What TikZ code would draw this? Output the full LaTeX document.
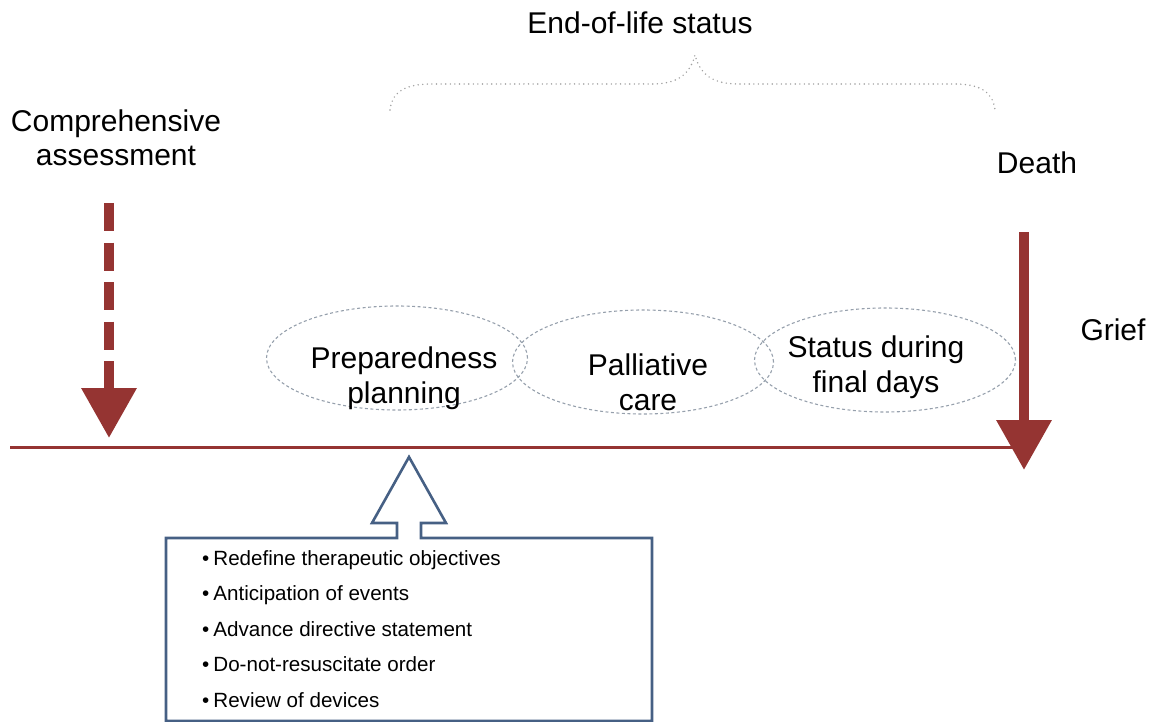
\documentclass[tikz,border=0pt]{standalone}
\usepackage{fontspec}
\setmainfont{Liberation Sans}
\usepackage{tikz}
\usetikzlibrary{arrows.meta,shapes.geometric,positioning}
\definecolor{lifered}{RGB}{149,52,50}
\definecolor{planblue}{RGB}{70,96,132}
\definecolor{ringgray}{RGB}{150,160,172}

\begin{document}
\begin{tikzpicture}[x=1pt,y=-1pt,
	bigtext/.style={font=\fontsize{30}{35}\selectfont,align=center,inner sep=0pt},
	itemtext/.style={font=\fontsize{20.6}{24}\selectfont,inner sep=0pt,anchor=base west},
	phase/.style={draw=ringgray,line width=1.1pt,dash pattern=on 3pt off 2.5pt,ellipse,minimum width=261pt,minimum height=104pt,inner sep=0pt},
	redarrow/.style={draw=lifered,line width=10pt,-{Triangle[width=53pt,length=50pt]}}]
	\useasboundingbox (0,0) rectangle (1156,722);

	% labels
	\node [bigtext] (eol) at (640,23) {End-of-life status};
	\node [bigtext] (assess) at (116,138) {Comprehensive\\[-1pt]assessment};
	\node [bigtext] (death) at (1037,163) {Death};
	\node [bigtext] (grief) at (1113,330) {Grief};

	% brace over the phases
	\draw [gray!75,line width=1.6pt,line cap=round,dash pattern=on 0pt off 4.6pt]
		(390,110) .. controls (392,90) and (408,84) .. (432,84) -- (652,84)
		.. controls (678,84) and (690,74) .. (695,55)
		.. controls (700,74) and (712,84) .. (738,84) -- (955,84)
		.. controls (980,84) and (993,92) .. (995,110);

	% phases
	\node [phase] (prep) at (397,358) {};
	\node [phase] (pall) at (643,362) {};
	\node [phase] (final) at (885,360) {};
	\node [bigtext] (preptext) at (404,378) {Preparedness\\planning};
	\node [bigtext] (palltext) at (648,382) {Palliative\\care};
	\node [bigtext] (finaltext) at (876,367) {Status during\\final days};

	% time line and arrows
	\coordinate (start) at (10,447);
	\coordinate (end) at (1022,447);
	\draw [lifered,line width=3pt] (start) -- (end);
	\coordinate (atop) at (109,203);
	\coordinate (atip) at (109,438);
	\draw [redarrow,dash pattern=on 28pt off 11.5pt] (atop) -- (atip);
	\coordinate (dtop) at (1024,232);
	\coordinate (dtip) at (1024,470);
	\draw [redarrow] (dtop) -- (dtip);

	% plan box with hollow arrow
	\draw [planblue,line width=2.6pt,line join=miter]
		(166,538) -- (397,538) -- (397,523) -- (372,523) -- (409,457) -- (446,523)
		-- (421,523) -- (421,538) -- (652,538) -- (652,721) -- (166,721) -- cycle;
	\foreach \txt [count=\i] in {Redefine therapeutic objectives,Anticipation of events,Advance directive statement,Do-not-resuscitate order,Review of devices}
		\node [itemtext] (item\i) at (202,529.5+35.5*\i) {\textbullet\hspace{4pt}\txt};

\end{tikzpicture}
\end{document}
